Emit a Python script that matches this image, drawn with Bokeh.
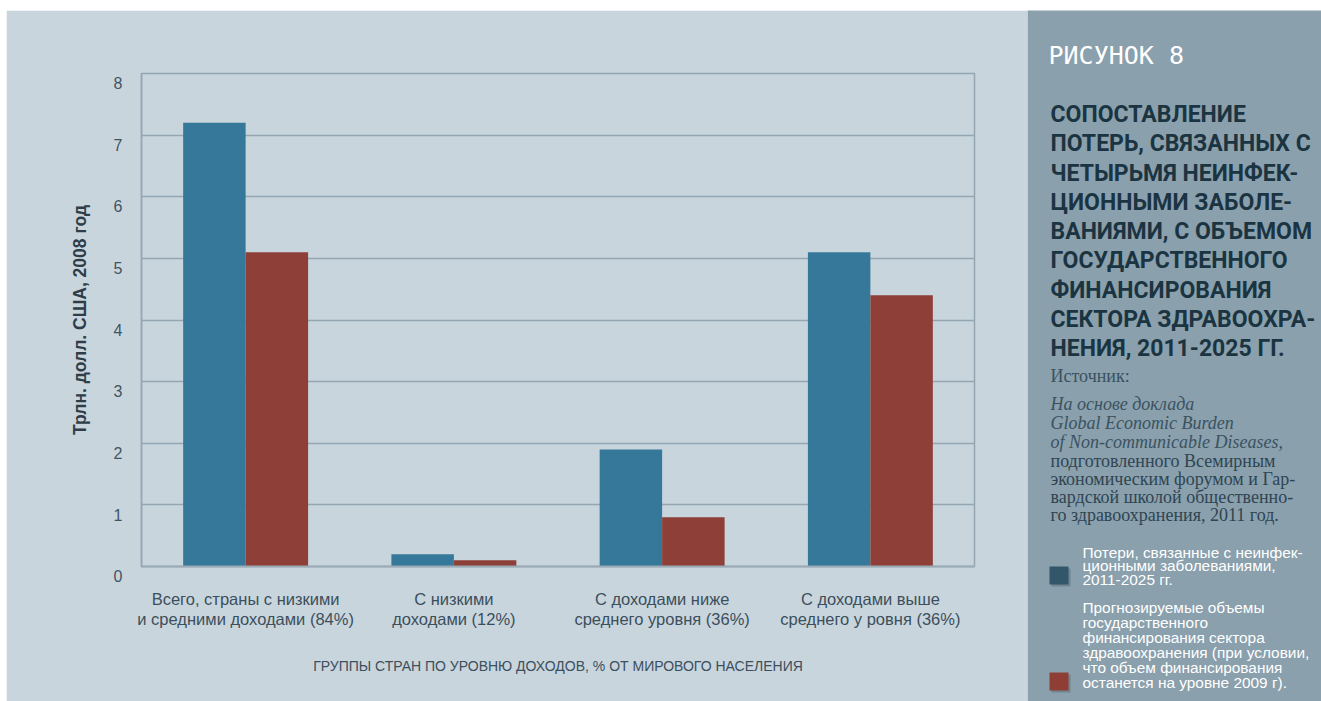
from bokeh.plotting import figure
from bokeh.models import ColumnDataSource, Range1d, FactorRange, Label, FixedTicker, BoxAnnotation
from bokeh.transform import dodge
from bokeh.layouts import row
from bokeh.embed import file_html
from bokeh.resources import INLINE

categories = [
    "Всего, страны с низкими\nи средними доходами (84%)",
    "С низкими\nдоходами (12%)",
    "С доходами ниже\nсреднего уровня (36%)",
    "С доходами выше\nсреднего у ровня (36%)",
]
losses = [7.2, 0.2, 1.9, 5.1]
spending = [5.1, 0.1, 0.8, 4.4]
y_ticks = [0, 1, 2, 3, 4, 5, 6, 7, 8]

y_title = "Трлн. долл. США, 2008 год"
x_title = "ГРУППЫ СТРАН ПО УРОВНЮ ДОХОДОВ, % ОТ МИРОВОГО НАСЕЛЕНИЯ"
fig_label = "РИСУНОК 8"
heading = [
    "СОПОСТАВЛЕНИЕ",
    "ПОТЕРЬ, СВЯЗАННЫХ С",
    "ЧЕТЫРЬМЯ НЕИНФЕК-",
    "ЦИОННЫМИ ЗАБОЛЕ-",
    "ВАНИЯМИ, С ОБЪЕМОМ",
    "ГОСУДАРСТВЕННОГО",
    "ФИНАНСИРОВАНИЯ",
    "СЕКТОРА ЗДРАВООХРА-",
    "НЕНИЯ, 2011-2025 ГГ.",
]
source_title = "Источник:"
source_italic = ["На основе доклада", "Global Economic Burden", "of Non-communicable Diseases,"]
source_regular = ["подготовленного Всемирным", "экономическим форумом и Гар-",
                  "вардской школой общественно-", "го здравоохранения, 2011 год."]
legend1 = ["Потери, связанные с неинфек-", "ционными заболеваниями,", "2011-2025 гг."]
legend2 = ["Прогнозируемые объемы", "государственного", "финансирования сектора",
           "здравоохранения (при условии,", "что объем финансирования",
           "останется на уровне 2009 г)."]

BLUE = "#367899"
RED = "#8e3f37"
BG = "#c9d5dd"
PANEL = "#8aa0ad"
GRID = "#93a6b2"

src = ColumnDataSource(dict(cat=categories, losses=losses, spending=spending))

p = figure(width=1021, height=691, x_range=FactorRange(*categories, range_padding=0),
           y_range=Range1d(0, 8), output_backend="svg", toolbar_location=None,
           min_border_left=135, min_border_right=53, min_border_top=63, min_border_bottom=135)
p.background_fill_color = BG
p.border_fill_color = BG
p.outline_line_color = GRID
p.outline_line_width = 1.5

p.vbar(x=dodge("cat", -0.15, range=p.x_range), top="losses", width=0.3, source=src,
       fill_color=BLUE, line_color=None)
p.vbar(x=dodge("cat", 0.15, range=p.x_range), top="spending", width=0.3, source=src,
       fill_color=RED, line_color=None)

p.xgrid.grid_line_color = None
p.ygrid.grid_line_color = GRID
p.ygrid.grid_line_width = 1.5
p.yaxis.ticker = FixedTicker(ticks=y_ticks)
# labels sit just below their grid line in the original
p.yaxis.major_label_overrides = {t: "\n" + str(t) for t in y_ticks}

for ax in (p.xaxis, p.yaxis):
    ax.major_tick_line_color = None
    ax.minor_tick_line_color = None
    ax.axis_label_text_font_style = "normal"

p.yaxis.axis_line_color = GRID
p.yaxis.axis_line_width = 1.5
p.yaxis.major_label_text_font = "Liberation Sans"
p.yaxis.major_label_text_font_size = "16px"
p.yaxis.major_label_text_color = "#3e5663"
p.yaxis.major_label_standoff = 13
p.yaxis.axis_label = y_title
p.yaxis.axis_label_text_font = "Liberation Sans"
p.yaxis.axis_label_text_font_size = "17.5px"
p.yaxis.axis_label_text_font_style = "bold"
p.yaxis.axis_label_text_color = "#2e3d48"
p.yaxis.axis_label_standoff = 21

p.xaxis.axis_line_color = "#9aabb6"
p.xaxis.axis_line_width = 2
p.xaxis.major_label_text_font = "Liberation Sans"
p.xaxis.major_label_text_font_size = "16.5px"
p.xaxis.major_label_text_color = "#3b4f5c"
p.xaxis.major_label_text_line_height = 1.15
p.xaxis.major_label_standoff = 17
p.xaxis.axis_label = x_title
p.xaxis.axis_label_text_font = "Liberation Sans"
p.xaxis.axis_label_text_font_size = "14px"
p.xaxis.axis_label_text_color = "#3b4f5c"
p.xaxis.axis_label_standoff = 27

# Right side panel, data units = pixels from the panel's top-left corner
q = figure(width=294, height=691, x_range=Range1d(0, 294), y_range=Range1d(691, 0),
           output_backend="svg", toolbar_location=None, min_border=0)
q.frame_align = False
q.axis.visible = False
q.grid.visible = False
q.background_fill_color = PANEL
q.border_fill_color = PANEL
q.outline_line_color = None

q.add_layout(Label(x=21, y=45, text=fig_label, text_font="DejaVu Sans Mono",
                   text_font_size="25px", text_color="white", text_baseline="middle"))
for i, t in enumerate(heading):
    q.add_layout(Label(x=23, y=104 + 29.25 * i, text=t, text_font="Roboto",
                       text_font_style="bold", text_font_size="23px",
                       text_color="#1b3441", text_baseline="middle"))
q.add_layout(Label(x=23, y=365, text=source_title, text_font="Liberation Serif",
                   text_font_size="18px", text_color="#3a5260", text_baseline="middle"))
for i, t in enumerate(source_italic):
    q.add_layout(Label(x=23, y=393 + 19 * i, text=t, text_font="Liberation Serif",
                       text_font_style="italic", text_font_size="18px",
                       text_color="#3a5260", text_baseline="middle"))
for i, t in enumerate(source_regular):
    q.add_layout(Label(x=23, y=450 + 18.3 * i, text=t, text_font="Liberation Serif",
                       text_font_size="18px", text_color="#2f4552", text_baseline="middle"))

# legend swatches with a soft shadow
for top, col in ((556, "#33576a"), (662, "#8e3e35")):
    q.add_layout(BoxAnnotation(left=24, right=43, top=top + 2, bottom=top + 20,
                               fill_color="#6a7e8a", fill_alpha=0.8, line_color=None))
    q.add_layout(BoxAnnotation(left=22, right=41, top=top, bottom=top + 18,
                               fill_color=col, fill_alpha=1, line_color=None))
for i, t in enumerate(legend1):
    q.add_layout(Label(x=55, y=542 + 13.3 * i, text=t, text_font="Liberation Sans",
                       text_font_size="15.4px", text_color="white", text_baseline="middle"))
for i, t in enumerate(legend2):
    q.add_layout(Label(x=55, y=597 + 15 * i, text=t, text_font="Liberation Sans",
                       text_font_size="15.4px", text_color="white", text_baseline="middle"))

layout = row(p, q, spacing=0)
layout.margin = (10, 0, 0, 6)

open("out.html", "w").write(file_html(layout, INLINE))
